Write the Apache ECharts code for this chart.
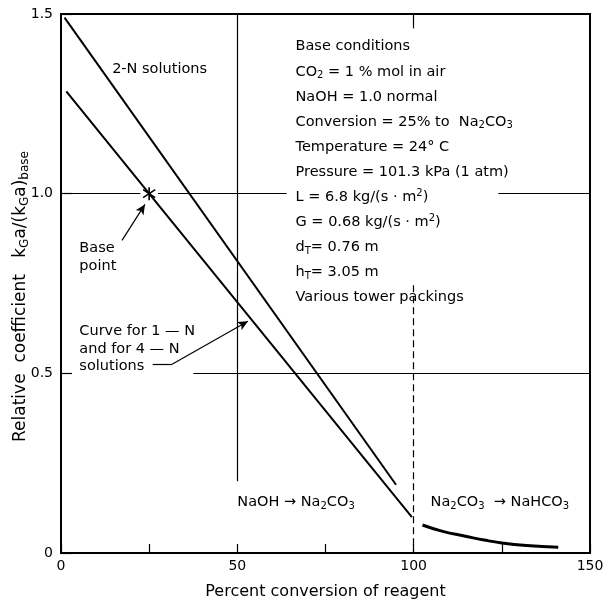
<!DOCTYPE html>
<html>
<head>
<meta charset="utf-8">
<script src="https://cdn.jsdelivr.net/npm/echarts@6/dist/echarts.min.js"></script>
<style>
  html, body { margin: 0; padding: 0; background: #fff; }
  #chart { width: 606px; height: 604px; }
</style>
</head>
<body>
<div id="chart"></div>
<script>
// Relative absorption coefficient vs. percent conversion of reagent
const xTicks = [0, 50, 100, 150];
const yTicks = [0, 0.5, 1.0, 1.5];

// 2-N solutions (straight line)
const line2N = [[1, 1.49], [95, 0.19]];
// 1-N and 4-N solutions (straight line through base point)
const line1N4N = [[1.5, 1.285], [25, 1.0], [99.5, 0.10]];
// Na2CO3 -> NaHCO3 region
const carbonateCurve = [[102.5, 0.078], [108, 0.061], [115, 0.046], [120, 0.036], [125, 0.028], [132, 0.021], [141, 0.016]];
// Base point
const basePoint = [25, 1.0];

const FONT = 'DejaVu Sans';
const INK = '#000';

const sub = { fontSize: 10, padding: [7, 0, 0, 0], fontFamily: FONT, color: INK };
const sup = { fontSize: 10, padding: [0, 0, 8, 0], fontFamily: FONT, color: INK };
const body = { fontSize: 14.5, fontFamily: FONT, color: INK, lineHeight: 25.1 };

const conditionLines = [
  '{t|Base conditions}',
  '{t|CO}{s|2}{t| = 1 % mol in air}',
  '{t|NaOH = 1.0 normal}',
  '{t|Conversion = 25% to  Na}{s|2}{t|CO}{s|3}',
  '{t|Temperature = 24° C}',
  '{t|Pressure = 101.3 kPa (1 atm)}',
  '{t|L = 6.8 kg/(s · m}{p|2}{t|)}',
  '{t|G = 0.68 kg/(s · m}{p|2}{t|)}',
  '{t|d}{s|T}{t|= 0.76 m}',
  '{t|h}{s|T}{t|= 3.05 m}',
  '{t|Various tower packings}'
];

function textPoint(coord, text, align, vAlign, lineHeight) {
  return {
    value: coord,
    label: {
      show: true, position: 'inside', formatter: text,
      color: INK, opacity: 1, textBorderWidth: 0, textBorderColor: 'transparent',
      align: align || 'left', verticalAlign: vAlign || 'middle',
      rich: {
        t: Object.assign({}, body, lineHeight ? { lineHeight: lineHeight } : {}),
        s: sub, p: sup
      }
    }
  };
}

const thin = { color: INK, width: 1.2, type: 'solid' };

const option = {
  animation: false,
  backgroundColor: '#fff',
  grid: {
    left: 61, right: 16, top: 14, bottom: 51,
    outerBoundsMode: 'none', containLabel: false,
    show: true, borderColor: INK, borderWidth: 2
  },
  xAxis: {
    type: 'value', min: 0, max: 150, interval: 25,
    name: 'Percent conversion of reagent', nameLocation: 'middle', nameGap: 31,
    nameTextStyle: { fontFamily: FONT, fontSize: 16, color: INK },
    axisLine: { lineStyle: { color: INK, width: 2 } },
    axisTick: { inside: true, length: 9, lineStyle: { color: INK, width: 1.2 } },
    axisLabel: {
      margin: 6, fontFamily: FONT, fontSize: 14, color: INK,
      formatter: v => (xTicks.indexOf(v) >= 0 ? String(v) : '')
    },
    splitLine: { show: false }
  },
  yAxis: {
    type: 'value', min: 0, max: 1.5, interval: 0.5,
    name: '{t|Relative  coefficient   k}{s|G}{t|a/(k}{s|G}{t|a)}{s|base}',
    nameLocation: 'middle', nameGap: 30, nameRotate: 90, nameMoveOverlap: false,
    nameTextStyle: {
      padding: [0, 26, 0, 0],
      rich: {
        t: { fontSize: 17, fontFamily: FONT, color: INK },
        s: { fontSize: 12, padding: [8, 0, 0, 0], fontFamily: FONT, color: INK }
      }
    },
    axisLine: { lineStyle: { color: INK, width: 2 } },
    axisTick: { inside: true, length: 11, lineStyle: { color: INK, width: 1.2 } },
    axisLabel: {
      margin: 8, fontFamily: FONT, fontSize: 14, color: INK,
      formatter: v => (yTicks.indexOf(v) >= 0 ? (v === 0 ? '0' : v.toFixed(1)) : '')
    },
    splitLine: { show: false }
  },
  series: [
    {
      // reference lines drawn across the plot
      type: 'line', data: [], silent: true,
      markLine: {
        silent: true, symbol: 'none', label: { show: false }, lineStyle: thin,
        data: [
          [{ coord: [0, 1.0] }, { coord: [22.5, 1.0] }],
          [{ coord: [27.5, 1.0] }, { coord: [64, 1.0] }],
          [{ coord: [124, 1.0] }, { coord: [150, 1.0] }],
          [{ coord: [37.5, 0.5] }, { coord: [150, 0.5] }],
          [{ coord: [50, 1.5] }, { coord: [50, 0.2] }],
          [{ coord: [100, 1.5] }, { coord: [100, 1.46] }],
          [{ coord: [100, 0.745] }, { coord: [100, 0], lineStyle: { color: INK, width: 1.2, type: [7, 4] } }]
        ]
      }
    },
    {
      type: 'line', data: line2N, symbol: 'none',
      lineStyle: { color: INK, width: 2 }
    },
    {
      type: 'line', data: line1N4N, symbol: 'none',
      lineStyle: { color: INK, width: 2 }
    },
    {
      type: 'line', data: carbonateCurve, symbol: 'none', smooth: true,
      lineStyle: { color: INK, width: 3 }
    },
    {
      type: 'scatter', data: [basePoint], symbolSize: 13, silent: true,
      symbol: 'path://M-0.7,-6L0.7,-6L0.7,6L-0.7,6Z M4.85,-4.25L5.55,-3.05L-4.85,4.25L-5.55,3.05Z M-5.55,-3.05L-4.85,-4.25L5.55,3.05L4.85,4.25Z',
      itemStyle: { color: INK, opacity: 1 }
    },
    {
      // annotation arrows
      type: 'line', data: [], silent: true,
      markLine: {
        silent: true, symbol: ['none', 'arrow'], symbolSize: [7, 10],
        label: { show: false }, lineStyle: { color: INK, width: 1.2, type: 'solid' },
        data: [
          [{ coord: [17.3, 0.87] }, { coord: [23.8, 0.97] }],
          [{ coord: [31.5, 0.525] }, { coord: [53, 0.645] }],
          [{ coord: [26, 0.525] }, { coord: [31.5, 0.525], symbol: 'none' }]
        ]
      }
    },
    {
      // text annotations
      type: 'scatter', symbolSize: 0, silent: true,
      itemStyle: { opacity: 1 },
      data: [
        textPoint([14.5, 1.347], '{t|2-N solutions}'),
        textPoint([66.5, 1.444], conditionLines.join('\n'), 'left', 'top'),
        textPoint([5.2, 0.823], '{t|Base}\n{t|point}', 'left', 'middle', 18.5),
        textPoint([5.2, 0.568], '{t|Curve for 1 — N}\n{t|and for 4 — N}\n{t|solutions}', 'left', 'middle', 17.5),
        textPoint([50, 0.14], '{t|NaOH → Na}{s|2}{t|CO}{s|3}'),
        textPoint([104.8, 0.14], '{t|Na}{s|2}{t|CO}{s|3}{t|  → NaHCO}{s|3}')
      ]
    }
  ]
};

const chart = echarts.init(document.getElementById('chart'), null, { renderer: 'canvas' });
chart.setOption(option);
</script>
</body>
</html>
